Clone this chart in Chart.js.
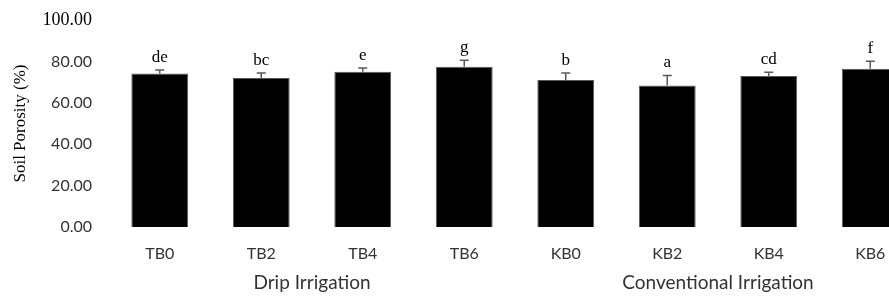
<!DOCTYPE html>
<html>
<head>
<meta charset="utf-8">
<script src="https://cdn.jsdelivr.net/npm/chart.js@4/dist/chart.umd.min.js"></script>
<style>
	html, body { margin: 0; padding: 0; background: #fff; overflow: hidden; }
	#wrap { width: 921px; height: 298px; position: relative; }
</style>
</head>
<body>
<div id="wrap"><canvas id="porosityCanvas"></canvas></div>
<script>
const treatments = ["TB0", "TB2", "TB4", "TB6", "KB0", "KB2", "KB4", "KB6"];
const porosity = [74.1, 72.0, 75.0, 77.4, 71.0, 68.4, 72.9, 76.5];
const porosityErr = [1.7, 2.4, 1.8, 3.2, 3.4, 4.8, 1.9, 3.6];
const letters = ["de", "bc", "e", "g", "b", "a", "cd", "f"];
const groups = ["Drip Irrigation", "Conventional Irrigation"];
const groupCenters = [1.5, 5.5]; // category index where each group label is centred

const serif = "'Liberation Serif', 'Times New Roman', serif";
const sans = "Lato, 'Open Sans', sans-serif";

// error bars (upper half only) and significance letters
const annotatePlugin = {
	id: "annotate",
	afterDatasetsDraw(chart) {
		const ctx = chart.ctx;
		const x = chart.scales.x;
		const y = chart.scales.y;
		ctx.save();
		porosity.forEach((v, i) => {
			const px = x.getPixelForValue(i);
			const yTop = y.getPixelForValue(v + porosityErr[i]);
			const yVal = y.getPixelForValue(v);
			ctx.strokeStyle = "#595959";
			ctx.lineWidth = 1.5;
			ctx.beginPath();
			ctx.moveTo(px, yVal);
			ctx.lineTo(px, yTop);
			ctx.moveTo(px - 4.5, yTop);
			ctx.lineTo(px + 4.5, yTop);
			ctx.stroke();

			ctx.fillStyle = "#000";
			ctx.font = `17px ${serif}`;
			ctx.textAlign = "center";
			ctx.textBaseline = "alphabetic";
			ctx.fillText(letters[i], px, yTop - 8);
		});
		// group labels under the category axis
		ctx.fillStyle = "#333";
		ctx.font = `19px ${sans}`;
		ctx.textBaseline = "middle";
		groups.forEach((g, i) => {
			ctx.fillText(g, x.getPixelForValue(groupCenters[i]), chart.chartArea.bottom + 56);
		});
		ctx.restore();
	},
};

function createBarChart(canvasId) {
	const ctx = document.getElementById(canvasId).getContext("2d");
	new Chart(ctx, {
		type: "bar",
		data: {
			labels: treatments,
			datasets: [
				{
					data: porosity,
					backgroundColor: "#000000",
					borderColor: "#595959",
					borderWidth: 1,
					barPercentage: 0.56,
					categoryPercentage: 1,
				},
			],
		},
		options: {
			responsive: true,
			maintainAspectRatio: false,
			animation: false,
			layout: {
				padding: { top: 20, left: 0, right: 0, bottom: 0 },
			},
			plugins: {
				legend: { display: false },
				tooltip: { enabled: false },
			},
			scales: {
				x: {
					grid: { display: false, drawTicks: false },
					border: { display: false },
					ticks: {
						color: "#333",
						padding: 17,
						font: { family: sans, size: 16 },
					},
					afterFit: (scale) => {
						scale.height = 71;
						scale.paddingLeft = 0;
						scale.paddingRight = 0;
					},
				},
				y: {
					min: 0,
					max: 100,
					grid: { display: false, drawTicks: false },
					border: { display: false },
					ticks: {
						stepSize: 20,
						padding: 17,
						color: (c) => (c.tick.value === 100 ? "#000" : "#333"),
						font: (c) =>
							c.tick && c.tick.value === 100
								? { family: serif, size: 18 }
								: { family: sans, size: 16 },
						callback: (v) => v.toFixed(2),
					},
					title: {
						display: true,
						text: "Soil Porosity (%)",
						color: "#000",
						padding: { top: 10, bottom: 0 },
						font: { family: serif, size: 17 },
					},
					afterFit: (scale) => {
						scale.width = 109;
						scale.paddingTop = 0;
						scale.paddingBottom = 0;
					},
				},
			},
		},
		plugins: [annotatePlugin],
	});
}

createBarChart("porosityCanvas");
</script>
</body>
</html>
